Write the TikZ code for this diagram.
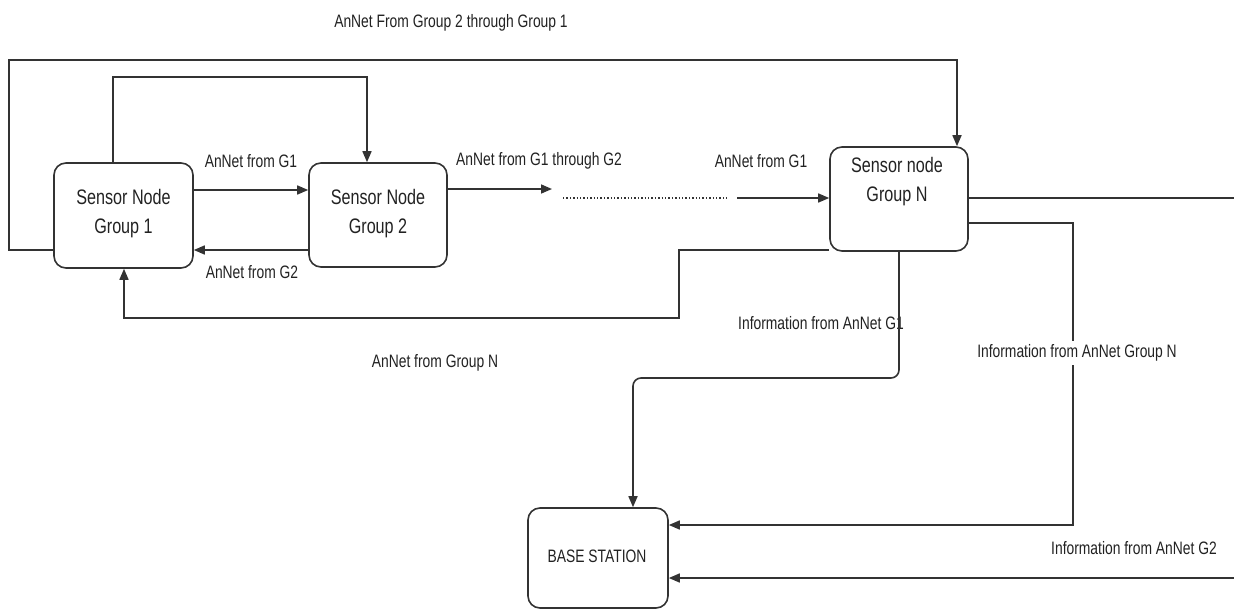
\documentclass[tikz,border=0pt]{standalone}
\usepackage{fontspec}
\setmainfont{Liberation Sans}[FakeStretch=0.77]
\usetikzlibrary{arrows.meta}
\definecolor{ln}{HTML}{333333}
\definecolor{tx}{HTML}{222222}
\tikzset{
  box/.style={draw=ln, line width=1.6pt, rounded corners=12pt, inner sep=0pt, text=tx, align=center},
  boxtext/.style={font=\fontsize{21}{29}\selectfont, text=tx, align=center, inner sep=0pt},
  lbl/.style={font=\fontsize{18}{21}\selectfont, text=tx, inner sep=1pt},
  wire/.style={draw=ln, line width=1.6pt},
  arr/.style={wire, -{Triangle[length=11pt,width=9pt]}},
  dots/.style={draw=ln, line width=1.4pt, dotted},
}
\begin{document}
\begin{tikzpicture}[x=1pt,y=-1pt]
\useasboundingbox[fill=white] (0,0) rectangle (1234,610);
% boxes
\node[box, minimum width=139pt, minimum height=105pt] (g1) at (123.5,215.5) {};
\node[boxtext] (g1t) at (123.5,214) {Sensor Node\\Group 1};
\node[box, minimum width=138pt, minimum height=104pt] (g2) at (378,215) {};
\node[boxtext] (g2t) at (378,214) {Sensor Node\\Group 2};
\node[box, minimum width=138pt, minimum height=104pt] (gn) at (899,199) {};
\node[boxtext] (gnt) at (897,182) {Sensor node\\Group N};
\node[box, minimum width=140pt, minimum height=100pt] (bs) at (598,558) {};
\node[lbl, font=\fontsize{18}{21}\selectfont] (bst) at (597,556) {BASE STATION};
% free ends
\coordinate (a1) at (552,189);
\coordinate (d1) at (563,198);
\coordinate (d2) at (727,198);
\coordinate (a2) at (737,198);
\coordinate (re) at (1234,198);
\coordinate (g2in) at (1234,578);
% labels
\node[lbl] (l1) at (451,23) {AnNet From Group 2 through Group 1};
\node[lbl] (l2) at (251,161) {AnNet from G1};
\node[lbl] (l3) at (252,272) {AnNet from G2};
\node[lbl] (l4) at (539,161) {AnNet from G1 through G2};
\node[lbl] (l5) at (761,161) {AnNet from G1};
\node[lbl] (l6) at (435,363) {AnNet from Group N};
\node[lbl] (l7) at (821,323) {Information from AnNet G1};
\node[lbl] (l9) at (1134,548) {Information from AnNet G2};
% connectors
\draw[arr] (g1.east |- 0,190) -- (g2.west |- 0,190);
\draw[arr] (g2.west |- 0,250) -- (g1.east |- 0,250);
\draw[arr] (g1.north -| 113,0) |- (367,77) -- (g2.north -| 367,0);
\draw[arr] (g1.west |- 0,250) -- (9,250) |- (957,60) -- (gn.north -| 957,0);
\draw[arr] (g2.east |- 0,189) -- (a1);
\draw[dots] (d1) -- (d2);
\draw[arr] (a2) -- (gn.west |- a2);
\draw[arr] (gn.west |- 0,250) -- (679,250) |- (124,318) -- (g1.south -| 124,0);
\draw[wire] (gn.east |- re) -- (re);
\draw[arr] (gn.east |- 0,223) -- (1073,223) |- (bs.east |- 0,525);
\draw[arr, rounded corners=8pt] (gn.south -| 899,0) |- (633,378) -- (bs.north -| 633,0);
\draw[arr] (g2in) -- (bs.east |- g2in);
\node[lbl, fill=white, inner ysep=4pt] (l8) at (1077,353) {Information from AnNet Group N};
\end{tikzpicture}
\end{document}
